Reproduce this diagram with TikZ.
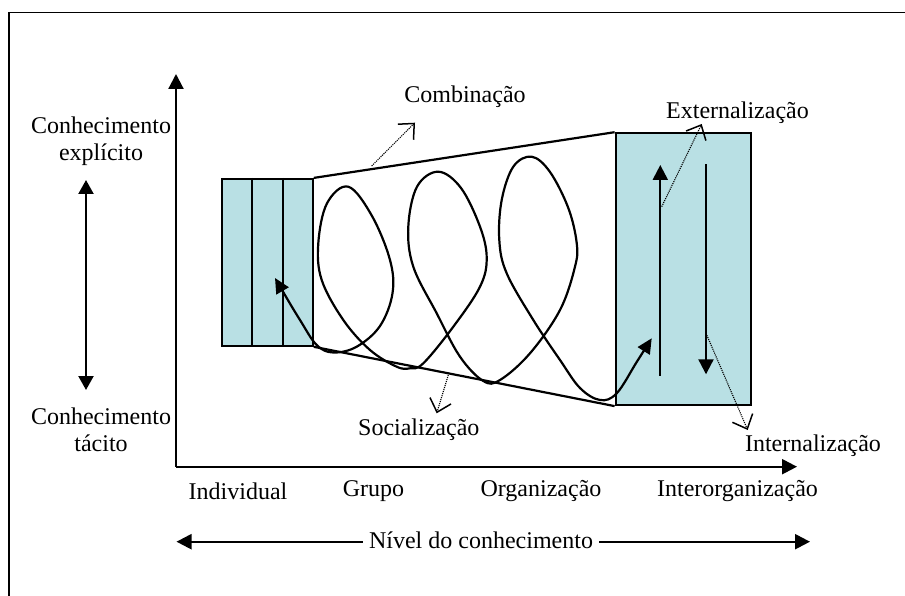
\documentclass[tikz,border=0pt]{standalone}
\usepackage{fontspec}
\setmainfont{Liberation Serif}
\usetikzlibrary{arrows.meta,calc}
\definecolor{boxfill}{RGB}{185,224,228}
\begin{document}
\begin{tikzpicture}[x=1pt,y=-1pt,
  lbl/.style={font=\fontsize{24}{27}\selectfont, inner sep=0pt, align=center},
  solidline/.style={line width=2.2pt},
  bigarrow/.style={line width=2.2pt, -{Triangle[length=15pt,width=15pt]}},
  dblarrow/.style={line width=2.2pt, {Triangle[length=14pt,width=15pt]}-{Triangle[length=14pt,width=15pt]}},
  hint/.style={line width=1.1pt, densely dotted, -{Straight Barb[length=12pt,width=22pt,line width=1.5pt]}},
  boxstyle/.style={draw, line width=2.2pt, fill=boxfill, inner sep=0pt}
]
\useasboundingbox (0,0) rectangle (905,596);
% frame
\draw[line width=1.8pt] (9,596) -- (9,12.5) -- (905,12.5);

% axes
\coordinate (O) at (176,466.7);
\coordinate (Ytip) at (176,74);
\coordinate (Xtip) at (797,466.7);
\draw[bigarrow] (O) -- (Ytip);
\draw[bigarrow] (O) -- (Xtip);

% left labels
\node[lbl] (expl) at (101,141) {Conhecimento\\explícito};
\node[lbl] (tac) at (101,430) {Conhecimento\\tácito};
\coordinate (DA) at (86,180);
\coordinate (DB) at (86,390);
\draw[dblarrow] (DA) -- (DB);

% x labels
\node[lbl] (ind) at (238,491) {Individual};
\node[lbl] (gru) at (373.5,491) {Grupo};
\node[lbl] (org) at (541,491) {Organização};
\node[lbl] (inter) at (737.5,491) {Interorganização};

% level arrow
\node[lbl, inner xsep=6pt] (niv) at (481,540) {Nível do conhecimento};
\coordinate (NL) at (176.5,541.7);
\coordinate (NR) at (810,541.7);
\draw[bigarrow] (niv.west |- NL) -- (NL);
\draw[bigarrow] (niv.east |- NR) -- (NR);

% left box (three columns)
\node[boxstyle, minimum width=91pt, minimum height=166.7pt] (lbox) at (267.2,262.35) {};
\draw[solidline] ($(lbox.north west)!1/3!(lbox.north east)$) -- ($(lbox.south west)!1/3!(lbox.south east)$);
\draw[solidline] ($(lbox.north west)!2/3!(lbox.north east)$) -- ($(lbox.south west)!2/3!(lbox.south east)$);

% right box
\node[boxstyle, minimum width=135.3pt, minimum height=271.7pt] (rbox) at (683.35,269.15) {};

% funnel
\draw[solidline] (lbox.north east) -- (rbox.north west);
\draw[solidline] (lbox.south east) -- (rbox.south west);

% spiral
\draw[line width=2.2pt, {Triangle[length=15pt,width=14pt]}-{Triangle[length=15pt,width=14pt]}]
  plot[smooth, tension=0.6] coordinates {
  (275,278) (300,320) (316.7,345) (333.3,352.5) (356.7,346.7) (380,326) (392.5,293.3) (390,260)
  (372,216) (348.3,186.7) (327,203.3) (318.3,243.3) (321.7,280) (343.3,320)
  (370,350) (396.7,366.7) (410,368.3) (423.3,363.3) (453.3,326.7) (480,286.7)
  (486.7,258) (480,226.7) (461,188) (438.3,171.7) (417,186.7) (408.3,226.7)
  (413.3,266.7) (436.7,313.3) (460,356.7) (483.3,381) (500,380) (530,353.3)
  (560,310) (575,266.7) (576.7,243) (568.3,208) (550,172) (531.7,156.7)
  (513.3,166.7) (501.7,200) (499.3,240) (506.7,273.3) (533.3,320) (560,360)
  (580,388) (600,400) (616.7,393.3) (636.7,362) (651.7,338.3)
  };

% inner arrows
\coordinate (UpA) at (660.3,375.7);
\coordinate (UpB) at (660.3,165);
\coordinate (DnA) at (706,164.3);
\coordinate (DnB) at (706,374.3);
\draw[bigarrow] (UpA) -- (UpB);
\draw[bigarrow] (DnA) -- (DnB);

% labels and dotted hints
\node[lbl] (comb) at (465,97) {Combinação};
\node[lbl] (soc) at (418.8,430) {Socialização};
\node[lbl] (ext) at (737.5,112.7) {Externalização};
\node[lbl] (int) at (813,446) {Internalização};

\coordinate (c1) at (371.7,166);  \coordinate (c2) at (415,122.7);
\coordinate (s1) at (448.3,375);  \coordinate (s2) at (436.7,413.3);
\coordinate (e1) at (661.7,206.7); \coordinate (e2) at (701.7,124);
\coordinate (i1) at (706,333.3);  \coordinate (i2) at (747.7,430);
\draw[hint] (c1) -- (c2);
\draw[hint] (s1) -- (s2);
\draw[hint] (e1) -- (e2);
\draw[hint] (i1) -- (i2);
\end{tikzpicture}
\end{document}
